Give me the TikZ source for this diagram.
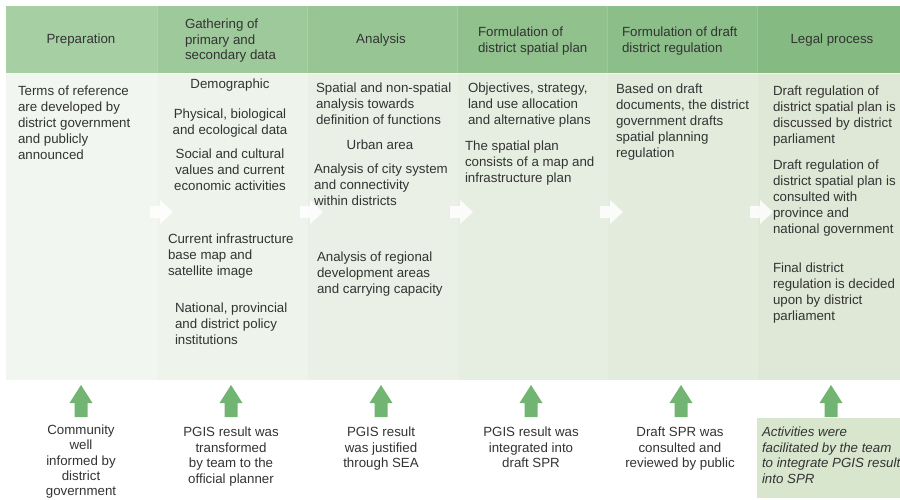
\documentclass[tikz,border=0pt]{standalone}
\usepackage{fontspec}
\setmainfont{Liberation Sans}
\newcommand\myfnt{\fontsize{13.3}{16}\selectfont}
\newcommand\myhfnt{\fontsize{13.3}{15.6}\selectfont}
\newcommand\mytfnt{\fontsize{13.3}{15.2}\selectfont}
\definecolor{txt}{HTML}{333333}
\definecolor{hA}{HTML}{A6CFA3}
\definecolor{hB}{HTML}{9ECA9B}
\definecolor{hC}{HTML}{97C694}
\definecolor{hD}{HTML}{91C28E}
\definecolor{hE}{HTML}{8BBE88}
\definecolor{hF}{HTML}{85BA82}
\definecolor{bA}{HTML}{F2F6F0}
\definecolor{bB}{HTML}{EEF3EB}
\definecolor{bC}{HTML}{EAF0E6}
\definecolor{bD}{HTML}{E6EDE1}
\definecolor{bE}{HTML}{E3EBDC}
\definecolor{bF}{HTML}{DFE8D6}
\definecolor{notebg}{HTML}{D9E6CE}
\definecolor{arrgreen}{HTML}{72B572}
\tikzset{
  lt/.style={anchor=north west, align=left},
  ct/.style={anchor=north, align=center},
  hd/.style={font=\myhfnt},
  bt/.style={font=\myhfnt},
  uparr/.pic={\fill[arrgreen] (0,0) -- (11.5,18) -- (6.5,18) -- (6.5,32) -- (-6.5,32) -- (-6.5,18) -- (-11.5,18) -- cycle;},
  rarr/.pic={\fill[white, opacity=0.85] (0,-6) -- (10,-6) -- (10,-12) -- (23,0) -- (10,12) -- (10,6) -- (0,6) -- cycle;}
}
\begin{document}
\begin{tikzpicture}[x=1pt,y=-1pt, every node/.style={inner sep=0pt, outer sep=0pt, text=txt, font=\myfnt}]
\useasboundingbox (0,0) rectangle (900,499);
% header bands
\fill[hA] (6,6) rectangle (157,73);
\fill[hB] (157,6) rectangle (307,73);
\fill[hC] (307,6) rectangle (457,73);
\fill[hD] (457,6) rectangle (607,73);
\fill[hE] (607,6) rectangle (757,73);
\fill[hF] (757,6) rectangle (900,73);
% body bands
\fill[bA] (6,73) rectangle (157,380);
\fill[bB] (157,73) rectangle (307,380);
\fill[bC] (307,73) rectangle (457,380);
\fill[bD] (457,73) rectangle (607,380);
\fill[bE] (607,73) rectangle (757,380);
\fill[bF] (757,73) rectangle (900,380);
\foreach \xb in {157,307,457,607,757} {\draw[white, opacity=0.18, line width=0.6pt] (\xb,6) -- (\xb,380);}
\draw[white, opacity=0.5, line width=0.8pt] (6,73) -- (900,73);
% note box
\fill[notebg] (757,418) rectangle (900,498);
% white flow arrows
\foreach \xb in {157,307,457,607,757} {\pic at (\xb-7,212) {rarr};}
% green up arrows
\foreach \cx in {81,231,381,531,681,831} {\pic at (\cx,385) {uparr};}
% header texts
\node[hd] (h1) at (81,40) {Preparation};
\node[hd, lt] (h2) at (185,19) {Gathering of\\primary and\\secondary data};
\node[hd] (h3) at (381,40) {Analysis};
\node[hd, lt] (h4) at (478,27) {Formulation of\\district spatial plan};
\node[hd, lt] (h5) at (622,27) {Formulation of draft\\district regulation};
\node[hd] (h6) at (832,40) {Legal process};
% body column 1
\node[lt] (b1) at (18,86) {Terms of reference\\are developed by\\district government\\and publicly\\announced};
% column 2
\node[ct] (b2a) at (230,79) {Demographic};
\node[ct] (b2b) at (230,109) {Physical, biological\\and ecological data};
\node[ct] (b2c) at (230,149) {Social and cultural\\values and current\\economic activities};
\node[lt] (b2d) at (168,234) {Current infrastructure\\base map and\\satellite image};
\node[lt] (b2e) at (175,303) {National, provincial\\and district policy\\institutions};
% column 3
\node[lt] (b3a) at (316,83) {Spatial and non-spatial\\analysis towards\\definition of functions};
\node[ct] (b3b) at (380,140) {Urban area};
\node[lt] (b3c) at (314,164) {Analysis of city system\\and connectivity\\within districts};
\node[lt] (b3d) at (317,252) {Analysis of regional\\development areas\\and carrying capacity};
% column 4
\node[lt] (b4a) at (468,83) {Objectives, strategy,\\land use allocation\\and alternative plans};
\node[lt] (b4b) at (465,141) {The spatial plan\\consists of a map and\\infrastructure plan};
% column 5
\node[lt] (b5) at (616,84) {Based on draft\\documents, the district\\government drafts\\spatial planning\\regulation};
% column 6
\node[lt] (b6a) at (773,86) {Draft regulation of\\district spatial plan is\\discussed by district\\parliament};
\node[lt] (b6b) at (773,160) {Draft regulation of\\district spatial plan is\\consulted with\\province and\\national government};
\node[lt] (b6c) at (773,263) {Final district\\regulation is decided\\upon by district\\parliament};
% bottom texts
\node[bt, ct, font=\mytfnt] (t1) at (81,425) {Community\\well\\informed by\\district\\government};
\node[bt, ct] (t2) at (231,427) {PGIS result was\\transformed\\by team to the\\official planner};
\node[bt, ct] (t3) at (381,427) {PGIS result\\was justified\\through SEA};
\node[bt, ct] (t4) at (531,427) {PGIS result was\\integrated into\\draft SPR};
\node[bt, ct] (t5) at (680,427) {Draft SPR was\\consulted and\\reviewed by public};
\node[bt, lt, font=\myhfnt\itshape] (t6) at (762,427) {Activities were\\facilitated by the team\\to integrate PGIS result\\into SPR};
\end{tikzpicture}
\end{document}
